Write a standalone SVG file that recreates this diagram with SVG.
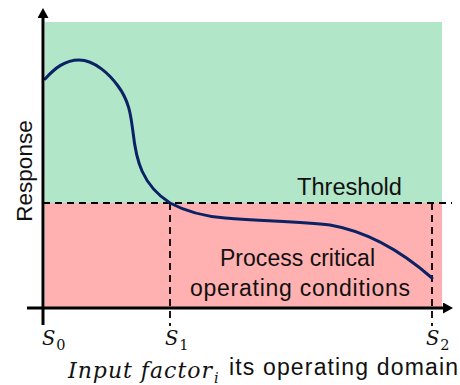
<svg xmlns="http://www.w3.org/2000/svg" width="460" height="385" viewBox="0 0 460 385">
  <style>
    .sans { font-family: "Liberation Sans", Arial, sans-serif; fill: #111; }
    .math { font-family: "DejaVu Serif", "Liberation Serif", serif; fill: #111; }
    .it { font-style: italic; }
    .axis { stroke: #000; stroke-width: 3; fill: none; }
    .dash { stroke: #000; stroke-width: 1.8; stroke-dasharray: 7 5; fill: none; }
    .curve { stroke: #0b2265; stroke-width: 3; fill: none; stroke-linecap: round; }
  </style>
  <defs>
    <marker id="arrow" markerWidth="11" markerHeight="11" refX="0" refY="5.5" orient="auto" markerUnits="userSpaceOnUse">
      <path d="M0,0 L10,5.5 L0,11 Z" fill="#000"/>
    </marker>
  </defs>

  <!-- zones above and below the threshold -->
  <g id="zones">
    <rect id="safe-zone" x="45" y="22" width="397" height="181" fill="#b2e6c9"/>
    <rect id="critical-zone" x="45" y="203" width="397" height="104" fill="#ffb0b0"/>
  </g>

  <!-- threshold and domain limit guides -->
  <g id="guides">
    <line class="dash" x1="43" y1="203" x2="452" y2="203"/>
    <line class="dash" x1="170" y1="203" x2="170" y2="326"/>
    <line class="dash" x1="432" y1="203" x2="432" y2="326"/>
  </g>

  <!-- response curve -->
  <g id="response-curve">
    <path class="curve" d="M45,79 C55,68 65,60 79,60 C95,60 110,75 118,86 C130,102 131,118 133,132 C136,160 142,185 170,203 C185,211 200,216 225,218 C265,221 300,222 330,225 C365,231 400,250 432,278"/>
  </g>

  <!-- axes -->
  <g id="axes">
    <line class="axis" x1="43" y1="325" x2="43" y2="18" marker-end="url(#arrow)"/>
    <line class="axis" x1="27" y1="308" x2="443" y2="308" marker-end="url(#arrow)"/>
  </g>

  <!-- labels -->
  <g id="labels">
    <text class="sans" font-size="22.5" text-anchor="middle" transform="translate(32,171) rotate(-90)">Response</text>
    <text class="sans" font-size="23" x="297" y="195" textLength="105" lengthAdjust="spacingAndGlyphs">Threshold</text>
    <text class="sans" font-size="23" x="220" y="266" textLength="155" lengthAdjust="spacing">Process critical</text>
    <text class="sans" font-size="23" x="190" y="296" textLength="220" lengthAdjust="spacing">operating conditions</text>

    <text class="math" font-size="19.5" x="42" y="345"><tspan class="it">S</tspan><tspan font-size="14.5" dy="5" dx="1">0</tspan></text>
    <text class="math" font-size="19.5" x="165" y="345"><tspan class="it">S</tspan><tspan font-size="14.5" dy="5" dx="1">1</tspan></text>
    <text class="math" font-size="19.5" x="426" y="345"><tspan class="it">S</tspan><tspan font-size="14.5" dy="5" dx="1">2</tspan></text>

    <text class="math it" font-size="22" x="68" y="378" textLength="144" lengthAdjust="spacing">Input factor</text>
    <text class="math it" font-size="14.5" x="214" y="383">i</text>
    <text class="sans" font-size="23" x="229" y="375" textLength="229" lengthAdjust="spacing">its operating domain</text>
  </g>
</svg>
